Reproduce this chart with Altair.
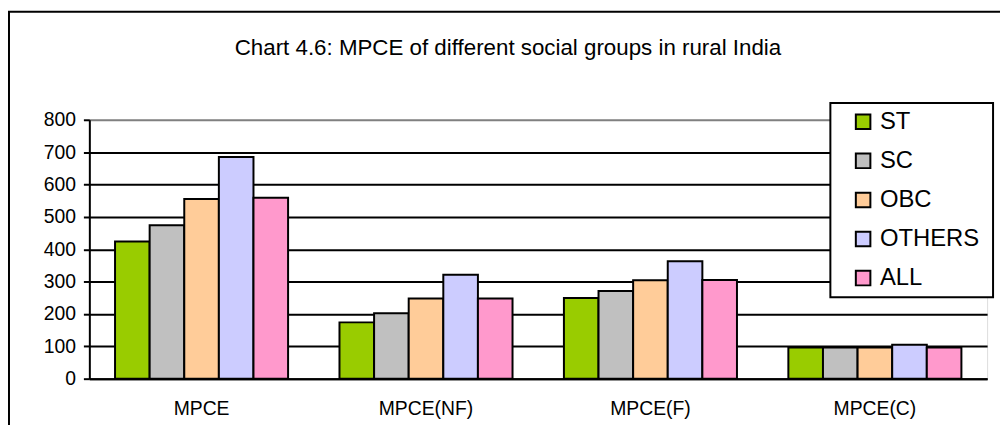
import altair as alt
import pandas as pd

# ---- data ----
categories = ["MPCE", "MPCE(NF)", "MPCE(F)", "MPCE(C)"]
groups = ["ST", "SC", "OBC", "OTHERS", "ALL"]
st_vals = [424, 174, 249, 96]
sc_vals = [474, 202, 271, 96]
obc_vals = [555, 248, 304, 96]
others_vals = [685, 321, 363, 105]
all_vals = [559, 248, 305, 96]
colors = ["#99CC00", "#C0C0C0", "#FFCC99", "#CCCCFF", "#FF99CC"]
y_ticks = [0, 100, 200, 300, 400, 500, 600, 700, 800]
title_text = "Chart 4.6: MPCE of different social groups in rural India"

series = [st_vals, sc_vals, obc_vals, others_vals, all_vals]
rows = []
for g, vals in zip(groups, series):
    for c, v in zip(categories, vals):
        rows.append({"category": c, "group": g, "value": v})
df = pd.DataFrame(rows)

FONT = "Liberation Sans"

bars = alt.Chart(df).mark_bar(stroke="black", strokeWidth=2, opacity=1).encode(
    x=alt.X(
        "category:N",
        sort=categories,
        scale=alt.Scale(paddingInner=0.229, paddingOuter=0.1145),
        axis=alt.Axis(
            title=None, labelAngle=0, ticks=False, tickSize=0, labelPadding=21,
            domainColor="black", domainWidth=2, grid=False,
            labelFont=FONT, labelFontSize=19.5, labelColor="black",
        ),
    ),
    xOffset=alt.XOffset("group:N", sort=groups, scale=alt.Scale(paddingInner=0, paddingOuter=0)),
    y=alt.Y(
        "value:Q",
        scale=alt.Scale(domain=[0, 800], nice=False),
        axis=alt.Axis(
            title=None, values=y_ticks, tickSize=6, tickWidth=2, tickColor="black",
            labelPadding=8, domainColor="black", domainWidth=2,
            grid=True, gridWidth=2,
            gridColor={"condition": {"test": "datum.value === 800", "value": "#808080"}, "value": "black"},
            labelFont=FONT, labelFontSize=19.5, labelColor="black",
        ),
    ),
    color=alt.Color(
        "group:N",
        sort=groups,
        scale=alt.Scale(domain=groups, range=colors),
        legend=alt.Legend(
            title=None, orient="none", legendX=768, legendY=-10, direction="vertical",
            padding=0, symbolType="square", symbolSize=215, symbolStrokeColor="black",
            symbolStrokeWidth=2, symbolOpacity=1, labelFont=FONT, labelFontSize=24,
            labelColor="black", labelOffset=5, rowPadding=15.4,
        ),
    ),
)

one = pd.DataFrame({"t": [title_text]})

outer_border = alt.Chart(one).mark_rect(
    fillOpacity=0, stroke="black", strokeWidth=2
).encode(
    x=alt.value(-81), x2=alt.value(940), y=alt.value(-109), y2=alt.value(340)
)

legend_box = alt.Chart(one).mark_rect(
    fill="white", stroke="black", strokeWidth=2
).encode(
    x=alt.value(747), x2=alt.value(911), y=alt.value(-17), y2=alt.value(179)
)

title = alt.Chart(one).mark_text(
    font=FONT, fontSize=22.5, color="black", align="center", baseline="alphabetic"
).encode(
    text="t:N", x=alt.value(422), y=alt.value(-65)
)

chart = alt.layer(bars, legend_box, outer_border, title).properties(
    width=905,
    height=261,
    autosize=alt.AutoSizeParams(type="none"),
    padding={"left": 82, "top": 111, "right": 13, "bottom": 45},
).configure_view(
    stroke="#808080", strokeWidth=2
).configure(background="white")

chart.save("out.html", embed_options={"renderer": "svg", "actions": False})
